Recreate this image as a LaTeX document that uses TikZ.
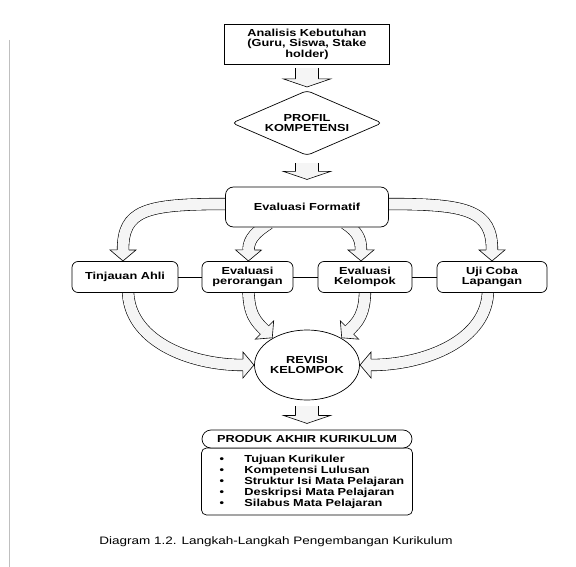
\documentclass[tikz,border=0pt]{standalone}
\usepackage{fontspec}
\setmainfont{Liberation Sans}[FakeStretch=1.25]
\usetikzlibrary{shapes.geometric,calc,decorations.markings,backgrounds}
\newcommand{\lstitem}[1]{\mbox{\hspace*{18pt}\makebox[25pt][l]{\textbullet}#1}}

\begin{document}
\begin{tikzpicture}[x=1pt, y=-1pt,
  sqbox/.style={draw, line width=0.7pt, fill=white, align=center, inner sep=0pt,
    font=\bfseries\fontsize{10.2}{10.5}\selectfont},
  rndbox/.style={sqbox, rounded corners=6pt},
  bigarrow/.style={draw=black, line width=0.6pt, double=black!4, double distance=22pt,
    postaction={decorate, decoration={markings, mark=at position -0.2pt with {
      \filldraw[draw=black, fill=black!4, line width=0.6pt]
        (0,11.3pt) -- (0,23.5pt) -- (8pt,0) -- (0,-23.5pt) -- (0,-11.3pt);}}}},
  curvearrow/.style={draw=black, line width=0.6pt, double=black!4, double distance=11pt,
    postaction={decorate, decoration={markings, mark=at position -0.2pt with {
      \filldraw[draw=black, fill=black!4, line width=0.6pt]
        (0,5.8pt) -- (0,13pt) -- (11pt,0) -- (0,-13pt) -- (0,-5.8pt);}}}}
]
\useasboundingbox (0,0) rectangle (576,567);
\draw[black!25, line width=0.6pt] (9,40) -- (9,567);

\node[sqbox, minimum width=165pt, minimum height=40pt] (ana) at (307,44) {Analisis Kebutuhan\\(Guru, Siswa, Stake\\holder)};
\node[sqbox, diamond, aspect=2.3, rounded corners=4pt, minimum width=150pt, minimum height=65pt] (prof) at (307,123) {PROFIL\\KOMPETENSI};
\node[rndbox, rounded corners=8pt, minimum width=163pt, minimum height=40pt] (ef) at (307,207) {Evaluasi Formatif};
\node[rndbox, minimum width=106pt, minimum height=31pt] (tin) at (125,277) {Tinjauan Ahli};
\node[rndbox, minimum width=91pt, minimum height=31pt] (per) at (247.5,277) {Evaluasi\\perorangan};
\node[rndbox, minimum width=94pt, minimum height=31pt] (kel) at (365,277) {Evaluasi\\Kelompok};
\node[rndbox, minimum width=110pt, minimum height=31pt] (uji) at (492,277) {Uji Coba\\Lapangan};
\node[sqbox, ellipse, minimum width=105pt, minimum height=70pt] (rev) at (307,365) {REVISI\\KELOMPOK};
\node[rndbox, rounded corners=5pt, align=left, text width=211pt, inner xsep=0pt, minimum height=67pt,
  font=\bfseries\fontsize{10.2}{11}\selectfont] (lst) at (307,481.5)
  {\lstitem{Tujuan Kurikuler}\\ \lstitem{Kompetensi Lulusan}\\ \lstitem{Struktur Isi Mata Pelajaran}\\
   \lstitem{Deskripsi Mata Pelajaran}\\ \lstitem{Silabus Mata Pelajaran}};
\node[rndbox, rounded corners=9pt, minimum width=210pt, minimum height=18pt] (pro) at (307,439) {PRODUK AKHIR KURIKULUM};
\node[font=\fontsize{10.8}{12}\selectfont] (cap) at (276,542) {Diagram 1.2. Langkah-Langkah Pengembangan Kurikulum};

\draw[line width=0.7pt] (tin) -- (per) (per) -- (kel) (kel) -- (uji);

\begin{scope}[on background layer]
\draw[bigarrow] ($(ana.south)+(0,4)$) -- ($(prof.north)+(0,-11)$);
\draw[bigarrow] ($(prof.south)+(0,7)$) -- ($(ef.north)+(0,-15)$);
\draw[bigarrow] ($(rev.south)+(0,6)$) -- ($(pro.north)+(0,-14)$);
\draw[curvearrow] ($(ef.west)+(0,-3)$) .. controls +(-80,0) and +(0,-40) .. ($(tin.north)+(-2,-11)$);
\draw[curvearrow] ($(ef.south)+(-38,-4)$) .. controls +(-12,8) and +(0,-12) .. ($(per.north)+(1,-11)$);
\draw[curvearrow] ($(ef.south)+(38,-4)$) .. controls +(12,8) and +(0,-12) .. ($(kel.north)+(-4,-11)$);
\draw[curvearrow] ($(ef.east)+(0,-3)$) .. controls +(78,0) and +(0,-40) .. ($(uji.north)+(0,-11)$);
\draw[curvearrow] ($(tin.south)+(3,-3)$) .. controls +(0,50) and +(-55,0) .. ($(rev.west)+(-11,0)$);
\draw[curvearrow] ($(per.south)+(1,-3)$) .. controls +(0,25) and +(-8,-8) .. ($(rev.142)+(-8,-8)$);
\draw[curvearrow] ($(kel.south)+(0,-3)$) .. controls +(0,25) and +(8,-8) .. ($(rev.38)+(8,-8)$);
\draw[curvearrow] ($(uji.south)+(-4,-3)$) .. controls +(0,50) and +(55,0) .. ($(rev.east)+(11,0)$);
\end{scope}
\end{tikzpicture}
\end{document}
